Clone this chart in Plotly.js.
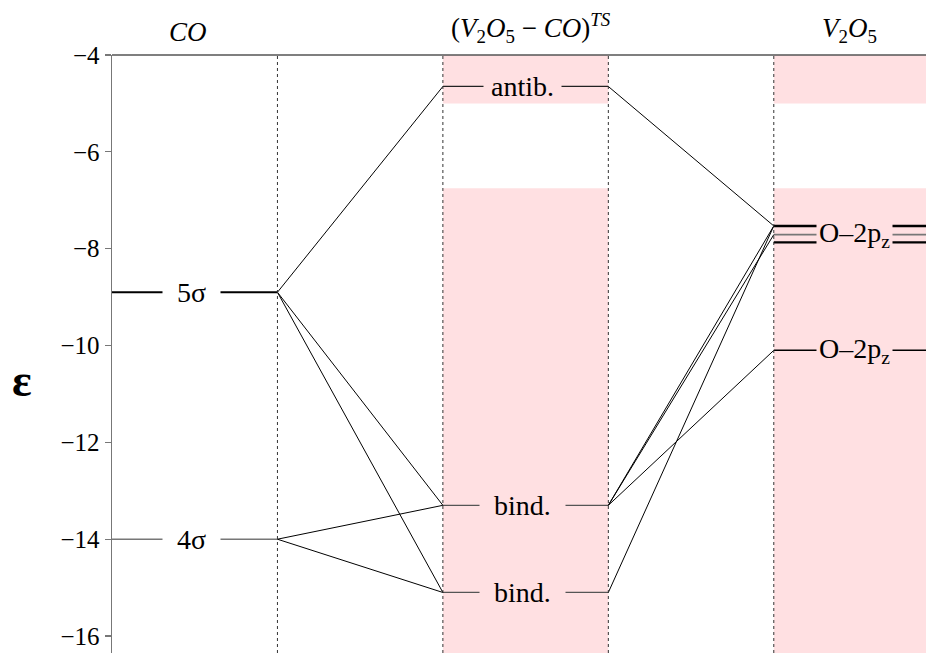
<!DOCTYPE html>
<html>
<head>
<meta charset="utf-8">
<script src="https://cdn.plot.ly/plotly-3.0.1.min.js"></script>
<style>html,body{margin:0;padding:0;background:#fff;}#chart{width:926px;height:653px;}</style>
</head>
<body>
<div id="chart"></div>
<script>
// ---- data ----
const columnTitles = ['<i>CO</i>', '(<i>V</i><sub>2</sub><i>O</i><sub>5</sub>\u2005−\u2005<i>CO</i>)<sup><i>TS</i></sup>', '<i>V</i><sub>2</sub><i>O</i><sub>5</sub>'];
const coLevels = [-8.9, -14.0];
const coLabels = ['5σ', '4σ'];
const tsLevels = [-4.65, -13.3, -15.1];
const tsLabels = ['antib.', 'bind.', 'bind.'];
const v2o5Levels = [-7.53, -7.71, -7.87, -10.1];
const v2o5Labels = ['', 'O–2p<sub>z</sub>', '', 'O–2p<sub>z</sub>'];
// connections: [CO index, TS index]
const coToTs = [[0, 0], [0, 1], [0, 2], [1, 1], [1, 2]];
// connections: [TS index, V2O5 index]
const tsToV = [[0, 0], [1, 0], [1, 1], [1, 3], [2, 0]];
// shaded bands (energy ranges)
const bandRanges = [[-5.0, -4.0], [-16.4, -6.75]];
const yTicks = [-4, -6, -8, -10, -12, -14, -16];
const yRange = [-16.35, -4];

// ---- layout helpers ----
const xMax = 4.92;
const cols = { co: [0, 1], ts: [2, 3], v: [4, xMax] };
const serif = 'Liberation Serif, Times New Roman, serif';
const coStyles = [{ color: '#000', width: 2.2 }, { color: '#777', width: 1.5 }];
const tsStyles = [{ color: '#222', width: 1.2 }, { color: '#555', width: 1.2 }, { color: '#555', width: 1.2 }];
const vStyles = [{ color: '#000', width: 2.4 }, { color: '#777', width: 1.6 }, { color: '#000', width: 2.4 }, { color: '#000', width: 1.5 }];

const traces = [];
function level(xr, e, st) {
  traces.push({ type: 'scatter', mode: 'lines', x: [xr[0], xr[1]], y: [e, e], line: st, hoverinfo: 'skip', showlegend: false });
}
coLevels.forEach((e, i) => level(cols.co, e, coStyles[i]));
tsLevels.forEach((e, i) => level(cols.ts, e, tsStyles[i]));
v2o5Levels.forEach((e, i) => level(cols.v, e, vStyles[i]));
coToTs.forEach(([a, b]) => traces.push({ type: 'scatter', mode: 'lines', x: [cols.co[1], cols.ts[0]], y: [coLevels[a], tsLevels[b]], line: { color: '#000', width: 1 }, hoverinfo: 'skip', showlegend: false }));
tsToV.forEach(([a, b]) => traces.push({ type: 'scatter', mode: 'lines', x: [cols.ts[1], cols.v[0]], y: [tsLevels[a], v2o5Levels[b]], line: { color: '#000', width: 1 }, hoverinfo: 'skip', showlegend: false }));

const shapes = [];
const pink = 'rgb(255,224,226)';
[cols.ts, [cols.v[0], 5]].forEach(xr => bandRanges.forEach(br => shapes.push({ type: 'rect', xref: 'x', yref: 'y', x0: xr[0], x1: xr[1], y0: br[0], y1: br[1], fillcolor: pink, line: { width: 0 }, layer: 'below' })));
[1, 2, 3, 4].forEach(x => shapes.push({ type: 'line', xref: 'x', yref: 'paper', x0: x, x1: x, y0: 0, y1: 1, line: { color: '#333', width: 1, dash: '3px,3px' }, layer: 'above' }));
shapes.push({ type: 'line', xref: 'paper', yref: 'paper', x0: 0, x1: 1, y0: 1, y1: 1, line: { color: '#555', width: 1.5 } });

const annotations = [];
const sp = n => '\u00a0'.repeat(n);
function lab(x, y, text, bg, n, pad) {
  annotations.push({ x: x, y: y, xref: 'x', yref: 'y', text: sp(n) + text + sp(n), showarrow: false, font: { family: serif, size: 28, color: '#000' }, bgcolor: bg, borderpad: pad || 0, xanchor: 'center', yanchor: 'middle' });
}
coLevels.forEach((e, i) => lab(0.48, e, coLabels[i], '#fff', 2));
tsLevels.forEach((e, i) => lab(2.48, e, tsLabels[i], pink, i === 0 ? 1 : 2));
v2o5Levels.forEach((e, i) => { if (v2o5Labels[i]) lab(4.49, e, v2o5Labels[i], pink, 0, 2); });
const titleX = [0.46, 2.53, 4.46];
columnTitles.forEach((t, i) => annotations.push({ x: titleX[i], y: 1, xref: 'x', yref: 'paper', yanchor: 'bottom', yshift: 6, text: t, showarrow: false, font: { family: serif, size: 27, color: '#000' } }));
annotations.push({ x: -0.11, y: 0.456, xref: 'paper', yref: 'paper', text: '<b>ε</b>', showarrow: false, font: { family: serif, size: 46, color: '#000' }, xanchor: 'center', yanchor: 'middle' });

const layout = {
  width: 926, height: 653,
  margin: { l: 112, r: 0, t: 55, b: 0 },
  paper_bgcolor: '#fff', plot_bgcolor: '#fff',
  showlegend: false,
  xaxis: { range: [0, xMax], visible: false, fixedrange: true },
  yaxis: { range: yRange, tickvals: yTicks, ticktext: yTicks.map(v => '−' + Math.abs(v)), showline: true, linecolor: '#777', linewidth: 1.5, ticks: 'outside', ticklen: 6, tickcolor: '#777', tickwidth: 1.2, showgrid: false, zeroline: false, tickfont: { family: serif, size: 25, color: '#000' }, fixedrange: true },
  shapes: shapes,
  annotations: annotations
};
Plotly.newPlot('chart', traces, layout, { displayModeBar: false, staticPlot: true });
</script>
</body>
</html>
